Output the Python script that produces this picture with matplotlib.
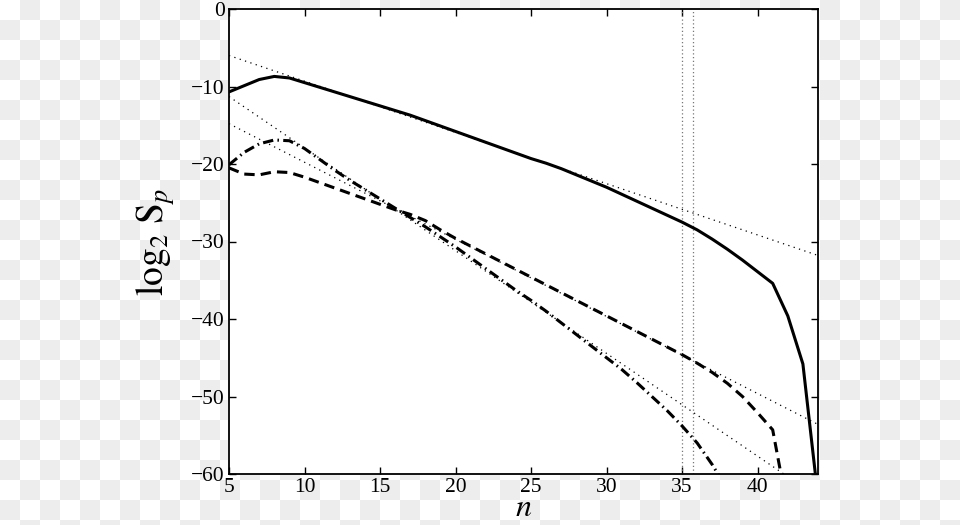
import numpy as np
import matplotlib
matplotlib.use("Agg")
from matplotlib import pyplot as plt

# data
n = np.arange(5, 45)
solid = [-10.7, -9.9, -9.1, -8.7, -8.9, -9.5, -10.1, -10.7, -11.3, -11.9,
         -12.5, -13.1, -13.7, -14.4, -15.1, -15.8, -16.5, -17.2, -17.9, -18.6,
         -19.3, -19.9, -20.6, -21.4, -22.2, -23.0, -23.9, -24.8, -25.7, -26.6,
         -27.5, -28.5, -29.7, -31.0, -32.4, -33.9, -35.4, -39.6, -45.8, -63.0]

n_dash = np.arange(5, 43)
dashed = [-20.5, -21.3, -21.4, -21.0, -21.1, -21.7, -22.4, -23.1, -23.8, -24.5,
          -25.2, -25.9, -26.5, -27.3, -28.5, -29.6, -30.6, -31.6, -32.6, -33.6,
          -34.6, -35.6, -36.6, -37.6, -38.6, -39.6, -40.6, -41.6, -42.6, -43.6,
          -44.6, -45.7, -46.9, -48.3, -50.0, -52.1, -54.3, -64.7]

n_dd = np.arange(5, 39)
dashdot = [-20.1, -18.5, -17.4, -16.9, -17.0, -18.0, -19.4, -20.8, -22.1, -23.3,
           -24.5, -25.7, -26.9, -28.1, -29.4, -30.7, -32.1, -33.5, -34.9, -36.3,
           -37.6, -39.0, -40.5, -42.0, -43.5, -45.0, -46.5, -48.2, -50.0, -51.8,
           -53.8, -56.0, -58.8, -62.0]

# fitted straight lines (end points)
fit_x = [5, 44]
fit1 = [-6.0, -31.8]
fit2 = [-11.3, -63.0]
fit3 = [-14.8, -53.6]

vlines = [35.0, 35.7]

plt.rcParams['font.family'] = ['Liberation Serif', 'DejaVu Serif']
plt.rcParams['mathtext.fontset'] = 'stix'

fig = plt.figure(figsize=(9.6, 5.25), dpi=100)

# transparent-background checkerboard as in the reference picture
yy, xx = np.indices((525, 960))
checker = np.where(((yy // 20) + (xx // 20)) % 2 == 1, 0.933, 1.0)
fig.figimage(np.dstack([checker] * 3), xo=0, yo=0, origin='upper', zorder=-10)

ax = fig.add_axes([229 / 960, 1 - 474 / 525, 589 / 960, 465 / 525])
ax.set_zorder(1)
ax.set_facecolor('white')

ax.plot(fit_x, fit1, color='black', lw=0.9, linestyle=(0, (1, 3.5)))
ax.plot(fit_x, fit2, color='black', lw=0.9, linestyle=(0, (1, 3.5)))
ax.plot(fit_x, fit3, color='black', lw=0.9, linestyle=(0, (1, 3.5)))
for v in vlines:
    ax.axvline(v, color='#777777', lw=0.9, linestyle=(0, (1, 2)))

ax.plot(n, solid, color='black', lw=2.2)
ax.plot(n_dash, dashed, color='black', lw=2.2, linestyle=(0, (3.4, 2.0)))
ax.plot(n_dd, dashdot, color='black', lw=2.2, linestyle=(0, (3.4, 1.4, 0.5, 1.4)))

ax.set_xlim(5, 44)
ax.set_ylim(-60, 0)
ax.set_xticks([5, 10, 15, 20, 25, 30, 35, 40])
ax.set_yticks([-60, -50, -40, -30, -20, -10, 0])
ax.set_yticklabels(['\u221260', '\u221250', '\u221240', '\u221230', '\u221220', '\u221210', '0'])
ax.tick_params(direction='in', length=5, width=1, top=True, right=True,
               labelsize=15.5, pad=3)
for s in ax.spines.values():
    s.set_linewidth(1.3)

ax.set_xlabel('$n$', fontsize=23, labelpad=-2)
ax.set_ylabel(r'$\mathrm{log}_{2}\ \mathrm{S}_{p}$', fontsize=27, labelpad=10)

fig.savefig('out.png', dpi=100)
